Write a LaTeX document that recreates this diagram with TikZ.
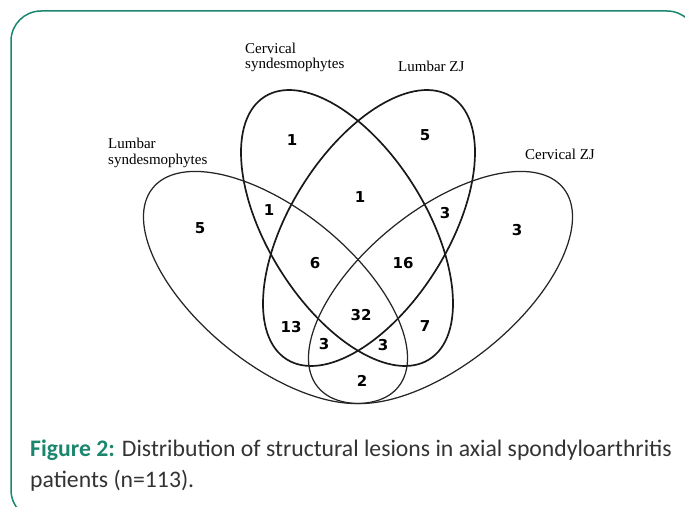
\documentclass[tikz,border=0pt]{standalone}
\usepackage{fontspec}
\setmainfont{Liberation Serif}
\newfontfamily\numfont{DejaVu Sans}
\newfontfamily\capfont{Carlito}
\usetikzlibrary{shapes.geometric}
\definecolor{framegreen}{RGB}{26,134,110}
\definecolor{capgray}{RGB}{51,51,51}
\begin{document}
\begin{tikzpicture}[x=1pt,y=1pt,
  setin/.style={draw=black!90, line width=1.7pt, ellipse, inner sep=0pt, outer sep=0pt},
  setout/.style={draw=black!85, line width=1.25pt, ellipse, inner sep=0pt, outer sep=0pt},
  num/.style={font=\numfont\bfseries\fontsize{15}{17}\selectfont, inner sep=0pt},
  lbl/.style={font=\fontsize{15}{17}\selectfont, inner sep=0pt, anchor=base west},
  capline/.style={font=\capfont\fontsize{23.7}{28}\selectfont, inner sep=0pt, anchor=base west, text=capgray},
]
\useasboundingbox (0,0) rectangle (685,506);
\begin{scope}
\clip (0,0) rectangle (685,506);
\draw[framegreen, line width=1.5pt, rounded corners=30pt] (11,-14) rectangle (697,495);
\end{scope}

% sets
\node[setin, minimum width=310pt, minimum height=158pt, rotate=-58] (A) at (347,278) {};
\node[setin, minimum width=310pt, minimum height=158pt, rotate=58] (B) at (369,278) {};
\node[setout, minimum width=316pt, minimum height=154pt, rotate=-39] (C) at (275.5,218.5) {};
\node[setout, minimum width=316pt, minimum height=154pt, rotate=39] (D) at (440.5,218.5) {};

% set labels
\node[lbl] (la1) at (245,452) {Cervical};
\node[lbl] (la2) at (245,437) {syndesmophytes};
\node[lbl] (lb) at (398,434) {Lumbar ZJ};
\node[lbl] (lc1) at (108,357) {Lumbar};
\node[lbl] (lc2) at (108,341) {syndesmophytes};
\node[lbl] (ld) at (525,346) {Cervical ZJ};

% counts
\node[num] (n1) at (292,366) {1};
\node[num] (n2) at (425,371) {5};
\node[num] (n3) at (360,309) {1};
\node[num] (n4) at (269,296) {1};
\node[num] (n5) at (445,293) {3};
\node[num] (n6) at (200,278) {5};
\node[num] (n7) at (517,276) {3};
\node[num] (n8) at (315,243) {6};
\node[num] (n9) at (403,243) {16};
\node[num] (n10) at (291,179) {13};
\node[num] (n11) at (361,191) {32};
\node[num] (n12) at (425,180) {7};
\node[num] (n13) at (324,162) {3};
\node[num] (n14) at (383,161) {3};
\node[num] (n15) at (362,125) {2};

% caption
\node[capline] (c1) at (30,50) {\textcolor{framegreen}{\bfseries Figure 2:} Distribution of structural lesions in axial spondyloarthritis};
\node[capline] (c2) at (30,19) {patients (n=113).};
\end{tikzpicture}
\end{document}
